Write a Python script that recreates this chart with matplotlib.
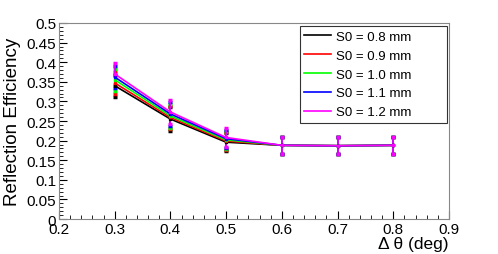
import matplotlib
matplotlib.use("Agg")
import matplotlib.pyplot as plt
from matplotlib.lines import Line2D
from matplotlib.ticker import MultipleLocator, FuncFormatter

plt.rcParams["font.family"] = ["Liberation Sans", "DejaVu Sans"]

# -----------------------------
# Data
# -----------------------------
DTHETA = [0.3, 0.4, 0.5, 0.6, 0.7, 0.8]
LABELS = ["S0 = 0.8 mm", "S0 = 0.9 mm", "S0 = 1.0 mm", "S0 = 1.1 mm", "S0 = 1.2 mm"]
EFF_08 = [0.340, 0.255, 0.196, 0.188, 0.187, 0.188]
EFF_09 = [0.347, 0.259, 0.199, 0.188, 0.187, 0.188]
EFF_10 = [0.355, 0.263, 0.202, 0.188, 0.187, 0.188]
EFF_11 = [0.362, 0.268, 0.205, 0.188, 0.187, 0.188]
EFF_12 = [0.370, 0.273, 0.208, 0.188, 0.187, 0.188]
ERR = [0.028, 0.030, 0.023, 0.022, 0.021, 0.021]

COLORS = ["black", "red", "#00ff00", "blue", "magenta"]


def fmt(v, pos):
    return "%g" % round(v, 3)


def main():
    fig = plt.figure(figsize=(4.98, 2.55), dpi=100)
    ax = fig.add_axes([0.1185, 0.137, 0.783, 0.769])

    series = [EFF_08, EFF_09, EFF_10, EFF_11, EFF_12]
    handles = []
    for vals, col, lab in zip(series, COLORS, LABELS):
        ax.errorbar(DTHETA, vals, yerr=ERR, color=col, lw=1.2,
                    elinewidth=1.2, capsize=1.2, capthick=2.5,
                    marker="s", markersize=1.5)
        handles.append(Line2D([], [], color=col, lw=1.2, label=lab))

    ax.set_xlim(0.2, 0.9)
    ax.set_ylim(0, 0.5)
    ax.xaxis.set_major_locator(MultipleLocator(0.1))
    ax.xaxis.set_minor_locator(MultipleLocator(0.02))
    ax.yaxis.set_major_locator(MultipleLocator(0.05))
    ax.yaxis.set_minor_locator(MultipleLocator(0.01))
    ax.xaxis.set_major_formatter(FuncFormatter(fmt))
    ax.yaxis.set_major_formatter(FuncFormatter(fmt))
    ax.tick_params(which="both", direction="in", top=False, right=False,
                   labelsize=11, pad=2)
    ax.tick_params(which="major", length=6)
    ax.tick_params(which="minor", length=3)
    for sp in ax.spines.values():
        sp.set_color("#888888")

    ax.set_xlabel("Δ θ (deg)", fontsize=12.5, loc="right", labelpad=0)
    ax.set_ylabel("Reflection Efficiency", fontsize=13.5, labelpad=4)

    leg = ax.legend(handles=handles, loc="upper left",
                    bbox_to_anchor=(0.602, 0.51, 0.295, 0.384),
                    bbox_transform=fig.transFigure, mode="expand",
                    fontsize=9.5, frameon=True, fancybox=False,
                    borderaxespad=0, handlelength=2.0, labelspacing=0.5,
                    borderpad=0.35, handletextpad=0.4)
    leg.get_frame().set_edgecolor("black")
    leg.get_frame().set_linewidth(0.8)

    fig.savefig("out.png", dpi=100)
    plt.close(fig)


if __name__ == "__main__":
    main()
